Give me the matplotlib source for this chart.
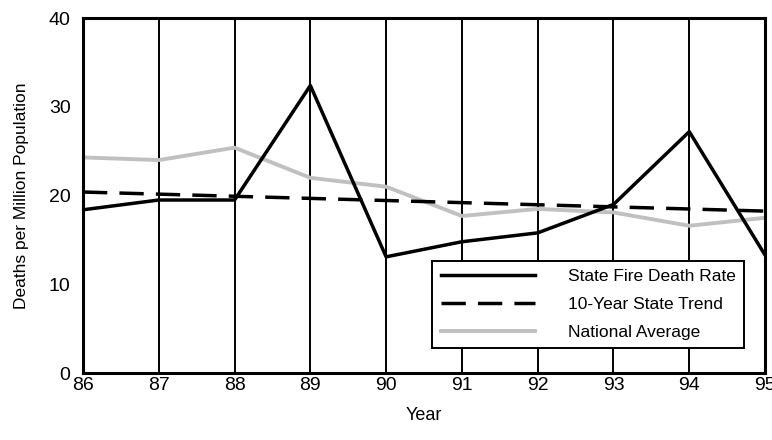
import matplotlib
matplotlib.use("Agg")
import matplotlib.pyplot as plt

years = [86, 87, 88, 89, 90, 91, 92, 93, 94, 95]
state_rate = [18.4, 19.5, 19.5, 32.4, 13.1, 14.8, 15.8, 19.0, 27.2, 13.3]
trend_start, trend_end = 20.4, 18.25
national_avg = [24.3, 24.0, 25.4, 22.0, 21.0, 17.7, 18.5, 18.1, 16.6, 17.5]
y_ticks = [0, 10, 20, 30, 40]
x_labels = ["86", "87", "88", "89", "90", "91", "92", "93", "94", "95"]

n = len(years)
trend = [trend_start + (trend_end - trend_start) * i / (n - 1) for i in range(n)]

plt.rcParams['font.family'] = ["Liberation Sans", "DejaVu Sans"]

fig = plt.figure(figsize=(7.72, 4.4), dpi=100)
ax = fig.add_axes([0.1075, 0.152, 0.8835, 0.807])

for x in years[1:-1]:
    ax.axvline(x, color="black", lw=1.4, zorder=1)

ax.plot(years, state_rate, color="black", lw=2.5, label="State Fire Death Rate", zorder=4)
ax.plot(years, trend, color="black", lw=2.5, dashes=(7, 3.5), label="10-Year State Trend", zorder=3)
ax.plot(years, national_avg, color="#c0c0c0", lw=2.8, label="National Average", zorder=2)

ax.set_xlim(86, 95)
ax.set_ylim(0, 40)
ax.set_xticks(years)
ax.set_xticklabels(x_labels)
ax.set_yticks(y_ticks)
ax.tick_params(axis="x", length=0, labelsize=14, pad=3)
ax.tick_params(axis="y", length=0, labelsize=14, pad=9)
for s in ax.spines.values():
    s.set_linewidth(2.2)

ax.set_xlabel("Year", fontsize=13, labelpad=9)
ax.set_ylabel("Deaths per Million Population", fontsize=12.5, labelpad=14)

leg = ax.legend(loc="lower right", bbox_to_anchor=(0.969, 0.070), borderaxespad=0,
                fontsize=12.5, frameon=True, fancybox=False, edgecolor="black",
                framealpha=1, handlelength=5.4, handletextpad=1.9,
                borderpad=0.49, labelspacing=0.72)
leg.get_frame().set_linewidth(1.4)
leg.set_zorder(5)

fig.savefig("out.png", dpi=100)
